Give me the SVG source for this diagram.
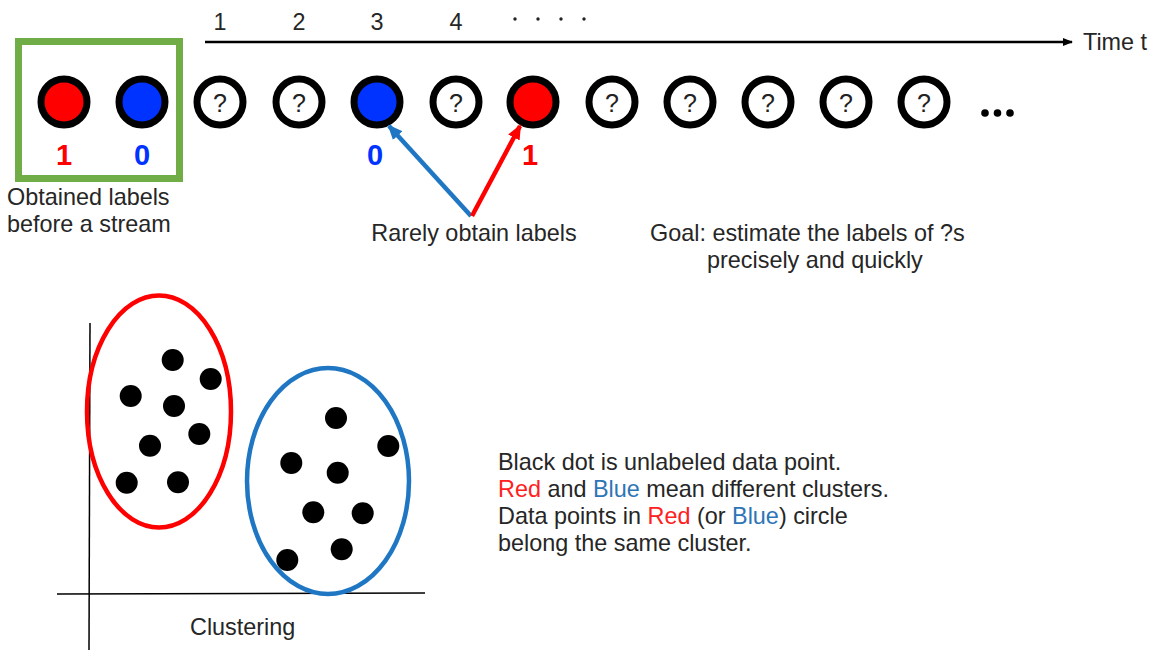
<svg xmlns="http://www.w3.org/2000/svg" width="1157" height="650" viewBox="0 0 1157 650">
<defs>
<style>
.t{font-family:"Liberation Sans","Noto Sans",sans-serif;font-size:23.4px;fill:#262626}
.node{stroke:#000;stroke-width:7}
.q{font-family:"Liberation Sans",sans-serif;font-size:25px;fill:#222;text-anchor:middle}
.lab{font-family:"Liberation Sans",sans-serif;font-size:29px;font-weight:bold;text-anchor:middle}
.dot{fill:#000}
.red{fill:#ff2020}
.blue{fill:#2e75b6}
</style>
<marker id="ah" markerWidth="10" markerHeight="8" refX="9" refY="4" orient="auto" markerUnits="userSpaceOnUse"><path d="M0,0 L10,4 L0,8 Z" fill="#000"/></marker>
<marker id="ab" markerWidth="15" markerHeight="13" refX="13" refY="6.5" orient="auto" markerUnits="userSpaceOnUse"><path d="M0,0 L15,6.5 L0,13 Z" fill="#1f77c4"/></marker>
<marker id="ar" markerWidth="15" markerHeight="13" refX="13" refY="6.5" orient="auto" markerUnits="userSpaceOnUse"><path d="M0,0 L15,6.5 L0,13 Z" fill="#ff0000"/></marker>
</defs>
<rect width="1157" height="650" fill="#fff"/>

<g id="timeline">
<line x1="205" y1="42" x2="1072" y2="42" stroke="#000" stroke-width="2.5" marker-end="url(#ah)"/>
<text class="t" x="1083" y="50">Time t</text>
<text class="t" x="220" y="30" text-anchor="middle">1</text>
<text class="t" x="299" y="30" text-anchor="middle">2</text>
<text class="t" x="377" y="30" text-anchor="middle">3</text>
<text class="t" x="456" y="30" text-anchor="middle">4</text>
<circle cx="515" cy="19" r="1.7" fill="#222"/>
<circle cx="538" cy="19" r="1.7" fill="#222"/>
<circle cx="561" cy="19" r="1.7" fill="#222"/>
<circle cx="584" cy="19" r="1.7" fill="#222"/>
</g>

<g id="labeled-box">
<rect x="18.5" y="41.5" width="161" height="137" fill="none" stroke="#70ad47" stroke-width="7"/>
<text class="t" x="7" y="205">Obtained labels</text>
<text class="t" x="7" y="232">before a stream</text>
</g>

<g id="stream">
<circle class="node" cx="64" cy="102" r="23" fill="#ff0000"/>
<text class="lab" x="64" y="165" fill="#ff0000">1</text>
<circle class="node" cx="142" cy="102" r="23" fill="#0033ff"/>
<text class="lab" x="142" y="165" fill="#0033ff">0</text>
<circle class="node" cx="220" cy="102" r="23" fill="#fff"/><text class="q" x="220" y="112">?</text>
<circle class="node" cx="299" cy="102" r="23" fill="#fff"/><text class="q" x="299" y="112">?</text>
<circle class="node" cx="377" cy="102" r="23" fill="#0033ff"/>
<text class="lab" x="375" y="165" fill="#0033ff">0</text>
<circle class="node" cx="456" cy="102" r="23" fill="#fff"/><text class="q" x="456" y="112">?</text>
<circle class="node" cx="533" cy="102" r="23" fill="#ff0000"/>
<text class="lab" x="530" y="165" fill="#ff0000">1</text>
<circle class="node" cx="612" cy="102" r="23" fill="#fff"/><text class="q" x="612" y="112">?</text>
<circle class="node" cx="690" cy="102" r="23" fill="#fff"/><text class="q" x="690" y="112">?</text>
<circle class="node" cx="768" cy="102" r="23" fill="#fff"/><text class="q" x="768" y="112">?</text>
<circle class="node" cx="846" cy="102" r="23" fill="#fff"/><text class="q" x="846" y="112">?</text>
<circle class="node" cx="924" cy="102" r="23" fill="#fff"/><text class="q" x="924" y="112">?</text>
<circle cx="985" cy="113" r="3.8" fill="#000"/>
<circle cx="997.5" cy="113" r="3.8" fill="#000"/>
<circle cx="1010" cy="113" r="3.8" fill="#000"/>
</g>

<g id="connectors">
<line x1="471" y1="216" x2="389" y2="126" stroke="#1f77c4" stroke-width="4.5" marker-end="url(#ab)"/>
<line x1="472" y1="216" x2="520" y2="126" stroke="#ff0000" stroke-width="4.5" marker-end="url(#ar)"/>
</g>

<g id="rarely">
<text class="t" x="474" y="241" text-anchor="middle">Rarely obtain labels</text>
</g>
<g id="goal">
<text class="t" x="650" y="241">Goal: estimate the labels of ?s</text>
<text class="t" x="707" y="268">precisely and quickly</text>
</g>

<g id="clustering">
<line x1="90" y1="323" x2="89" y2="650" stroke="#000" stroke-width="1.5"/>
<line x1="57" y1="594" x2="425" y2="593" stroke="#000" stroke-width="1.5"/>
<ellipse cx="159" cy="411.5" rx="72" ry="116" fill="none" stroke="#ff0000" stroke-width="4.5"/>
<ellipse cx="328" cy="481" rx="81" ry="113" fill="none" stroke="#1f77c4" stroke-width="4.5"/>
<circle class="dot" cx="172.7" cy="360" r="11"/>
<circle class="dot" cx="210.7" cy="379" r="11"/>
<circle class="dot" cx="130.7" cy="396" r="11"/>
<circle class="dot" cx="174" cy="406" r="11"/>
<circle class="dot" cx="199.3" cy="434" r="11"/>
<circle class="dot" cx="150" cy="445.7" r="11"/>
<circle class="dot" cx="126.7" cy="482.7" r="11"/>
<circle class="dot" cx="178" cy="482.3" r="11"/>
<circle class="dot" cx="336" cy="418" r="11"/>
<circle class="dot" cx="388.3" cy="446" r="11"/>
<circle class="dot" cx="291.3" cy="463" r="11"/>
<circle class="dot" cx="337.7" cy="472.7" r="11"/>
<circle class="dot" cx="313.3" cy="512.3" r="11"/>
<circle class="dot" cx="362.7" cy="513.3" r="11"/>
<circle class="dot" cx="341.7" cy="549.3" r="11"/>
<circle class="dot" cx="287.3" cy="560" r="11"/>
<text class="t" x="190" y="635">Clustering</text>
</g>

<g id="legend">
<text class="t" x="498" y="470">Black dot is unlabeled data point.</text>
<text class="t" x="498" y="497"><tspan class="red">Red</tspan> and <tspan class="blue">Blue</tspan> mean different clusters.</text>
<text class="t" x="498" y="524">Data points in <tspan class="red">Red</tspan> (or <tspan class="blue">Blue</tspan>) circle</text>
<text class="t" x="498" y="551">belong the same cluster.</text>
</g>
</svg>
